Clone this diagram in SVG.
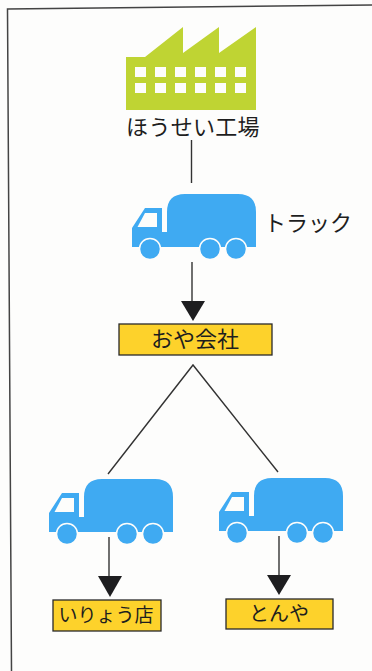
<svg xmlns="http://www.w3.org/2000/svg" width="372" height="671" viewBox="0 0 372 671">
<style>
.t{font-family:"Noto Sans CJK JP","Noto Sans",sans-serif;fill:#1e1e1e;text-anchor:middle}
.box{fill:#fdd22b;stroke:#2a2a2a;stroke-width:1.300}
.ln{stroke:#333;stroke-width:1.400;fill:none}
.hd{fill:#1e1e20}
.blue{fill:#3faaf2}
</style>
<defs>
<g id="truck">
<path class="blue" d="M0 53V34L13 14H30V38H35V18Q35 0 53 0H106Q124 0 124 18V53Z"/>
<path d="M5.500 33L13 19H25V33Z" fill="#fdfdfb"/>
<g class="blue" stroke="#fdfdfb" stroke-width="1.500">
<circle cx="18" cy="55" r="10.500"/>
<circle cx="78" cy="55" r="10.500"/>
<circle cx="104" cy="55" r="10.500"/>
</g>
</g>
</defs>
<rect width="372" height="671" fill="#fdfdfc"/>
<path d="M11.500 671L7.500 9L372 5" fill="none" stroke="#444" stroke-width="1.500"/>
<g id="connectors">
<path class="ln" d="M191.500 140V183"/>
<path class="ln" d="M192 262V302"/>
<path class="hd" d="M181 301H205L193 321Z"/>
<path class="ln" d="M108 474L193 365L278 472"/>
<path class="ln" d="M109 537V578"/>
<path class="hd" d="M98 576H122L110 597Z"/>
<path class="ln" d="M279 536V577"/>
<path class="hd" d="M267 575H291L279 595Z"/>
</g>
<g id="factory">
<path d="M126 57H145L183 27V53L219 27V53L256 27V110H126Z" fill="#bfd433"/>
<g fill="#fdfdfb">
<rect x="135" y="67" width="11" height="10"/><rect x="155" y="67" width="11" height="10"/><rect x="175" y="67" width="11" height="10"/><rect x="195" y="67" width="11" height="10"/><rect x="215" y="67" width="11" height="10"/><rect x="235" y="67" width="11" height="10"/>
<rect x="135" y="83" width="11" height="10"/><rect x="155" y="83" width="11" height="10"/><rect x="175" y="83" width="11" height="10"/><rect x="195" y="83" width="11" height="10"/><rect x="215" y="83" width="11" height="10"/><rect x="235" y="83" width="11" height="10"/>
</g>
<text class="t" x="193" y="135" font-size="22" letter-spacing="0.300">ほうせい工場</text>
</g>
<g id="truck-main">
<use href="#truck" x="132" y="194"/>
<text class="t" x="308" y="231" font-size="22">トラック</text>
</g>
<g id="parent-company">
<rect class="box" x="119" y="324" width="153" height="31"/>
<text class="t" x="195" y="347" font-size="22">おや会社</text>
</g>
<g id="truck-left"><use href="#truck" x="49" y="479"/></g>
<g id="truck-right"><use href="#truck" x="219" y="478"/></g>
<g id="retailer">
<rect class="box" x="53" y="600" width="108" height="31"/>
<text class="t" x="106" y="622" font-size="19">いりょう店</text>
</g>
<g id="wholesaler">
<rect class="box" x="226" y="599" width="107" height="30"/>
<text class="t" x="279" y="621" font-size="20">とんや</text>
</g>
</svg>
